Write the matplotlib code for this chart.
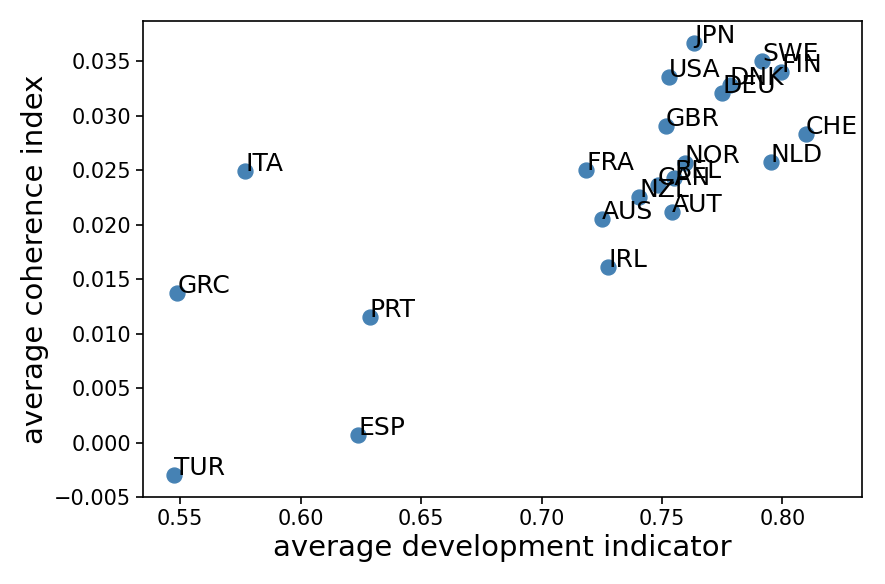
import matplotlib
matplotlib.use('Agg')
import matplotlib.pyplot as plt

countries = ['TUR', 'GRC', 'ITA', 'PRT', 'ESP', 'JPN', 'SWE', 'FIN', 'DNK',
             'DEU', 'USA', 'GBR', 'CHE', 'NLD', 'FRA', 'NOR', 'BEL', 'CAN',
             'NZL', 'AUS', 'AUT', 'IRL']
dev = [0.5475, 0.5488, 0.5770, 0.6288, 0.6239, 0.7633, 0.7915, 0.7994, 0.7782,
       0.7749, 0.7529, 0.7517, 0.8098, 0.7952, 0.7185, 0.7595, 0.7550, 0.7483,
       0.7405, 0.7251, 0.7541, 0.7276]
coh = [-0.00294, 0.01376, 0.0249, 0.01156, 0.00073, 0.0367, 0.0350, 0.0340, 0.0328,
       0.0321, 0.0336, 0.0291, 0.0283, 0.0258, 0.0250, 0.0257, 0.0243, 0.0236,
       0.0225, 0.0205, 0.0212, 0.0161]

fig = plt.figure(figsize=(8.85, 5.84), dpi=100)
ax = fig.add_axes([0.1616, 0.149, 0.8124, 0.815])
ax.scatter(dev, coh, s=115, color='steelblue', zorder=2)
for name, x, y in zip(countries, dev, coh):
    ax.text(x, y, name, fontsize=18, zorder=3)

ax.set_xlim(0.5346, 0.833)
ax.set_ylim(-0.005, 0.0387)
ax.set_xlabel('average development indicator', fontsize=21)
ax.set_ylabel('average coherence index', fontsize=21)
ax.tick_params(labelsize=15, width=1.2, length=5)
for sp in ax.spines.values():
    sp.set_linewidth(1.2)
fig.savefig('out.png')
